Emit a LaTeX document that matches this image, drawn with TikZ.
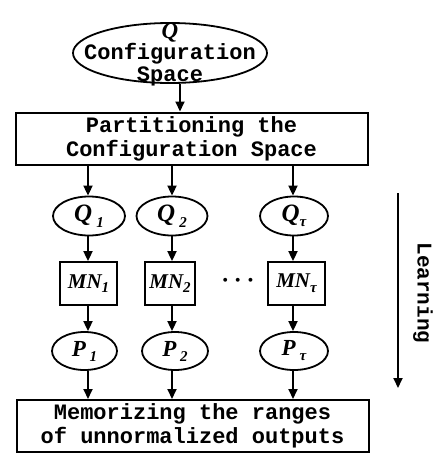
\documentclass[tikz,border=0pt]{standalone}
\usepackage{fontspec}
\setmainfont{Liberation Serif}
\setmonofont{Liberation Mono}
\usetikzlibrary{arrows.meta,shapes.geometric}

\newcommand{\mono}{\ttfamily\bfseries\fontsize{22}{24}\selectfont}
\newcommand{\sym}{\rmfamily\bfseries\itshape\fontsize{23}{23}\selectfont}
\newcommand{\qsym}{\rmfamily\bfseries\itshape\fontsize{25}{25}\selectfont}
\newcommand{\msym}{\rmfamily\bfseries\itshape\fontsize{21}{21}\selectfont}
\newcommand{\subs}[1]{\raisebox{-0.22em}{\fontsize{15}{15}\selectfont #1}}

\begin{document}
\begin{tikzpicture}[x=1pt,y=-1pt,
  oval/.style={ellipse, draw, line width=1.8pt, inner sep=0pt},
  wide/.style={rectangle, draw, line width=2pt, minimum width=352pt, minimum height=52pt,
    align=center, font=\mono, inner sep=0pt},
  mnbox/.style={rectangle, draw, line width=1.8pt, minimum height=43pt, inner sep=1pt, font=\msym},
  flow/.style={-{Triangle[length=10pt,width=9pt]}, line width=1.8pt}]
\useasboundingbox (0,0) rectangle (437,456);

% configuration space: the label runs over the outline of the oval
\node[oval, minimum width=194pt, minimum height=60pt] (cs) at (170,53) {};
\node[align=center, inner sep=0pt, font=\ttfamily\bfseries\fontsize{22}{22.5}\selectfont] (cslabel) at (170,55)
  {{\sym Q}\\[-2pt]Configuration\\Space};
\node[wide] (part) at (191.5,138.5) {Partitioning the\\Configuration Space};

% per-partition columns
\node[oval, minimum width=72pt, minimum height=39pt] (q1) at (89,216) {\qsym Q\,\subs{1}};
\node[oval, minimum width=71pt, minimum height=39pt] (q2) at (172,216) {\qsym Q\,\subs{2}};
\node[oval, minimum width=68pt, minimum height=39pt] (qt) at (294,216) {\qsym Q\subs{τ}};

\node[mnbox, minimum width=57pt] (mn1) at (88.5,283.5) {MN\subs{1}};
\node[mnbox, minimum width=50pt] (mn2) at (170,283.5) {MN\subs{2}};
\node[mnbox, minimum width=57pt] (mnt) at (296.5,283.5) {MN\subs{τ}};
\node[font=\fontsize{26}{26}\selectfont\mathversion{bold}] (dots) at (238,281) {$\cdots$};

\node[oval, minimum width=65pt, minimum height=38pt] (p1) at (84.5,351) {\sym P\,\subs{1}};
\node[oval, minimum width=66pt, minimum height=38pt] (p2) at (175,351) {\sym P\,\subs{2}};
\node[oval, minimum width=68pt, minimum height=38pt] (pt) at (294,351) {\sym P\,\subs{τ}};

\node[wide] (mem) at (192.5,426) {Memorizing the ranges\\of unnormalized outputs};

% connectors
\draw[flow] ([xshift=10pt]cs.south) -- ([xshift=10pt]cs.south |- part.north);
\foreach \c/\q/\m/\p in {88/q1/mn1/p1, 172/q2/mn2/p2, 293/qt/mnt/pt} {
  \coordinate (col) at (\c,0);
  \draw[flow] (col |- part.south) -- (col |- \q.north);
  \draw[flow] (col |- \q.south) -- (col |- \m.north);
  \draw[flow] (col |- \m.south) -- (col |- \p.north);
  \draw[flow] (col |- \p.south) -- (col |- mem.north);
}

% learning direction
\coordinate (lt) at (398,193);
\coordinate (lb) at (398,388);
\draw[flow] (lt) -- (lb);
\node[rotate=-90, font=\ttfamily\bfseries\fontsize{21}{21}\selectfont] (learn) at (423,293) {Learning};
\end{tikzpicture}
\end{document}
